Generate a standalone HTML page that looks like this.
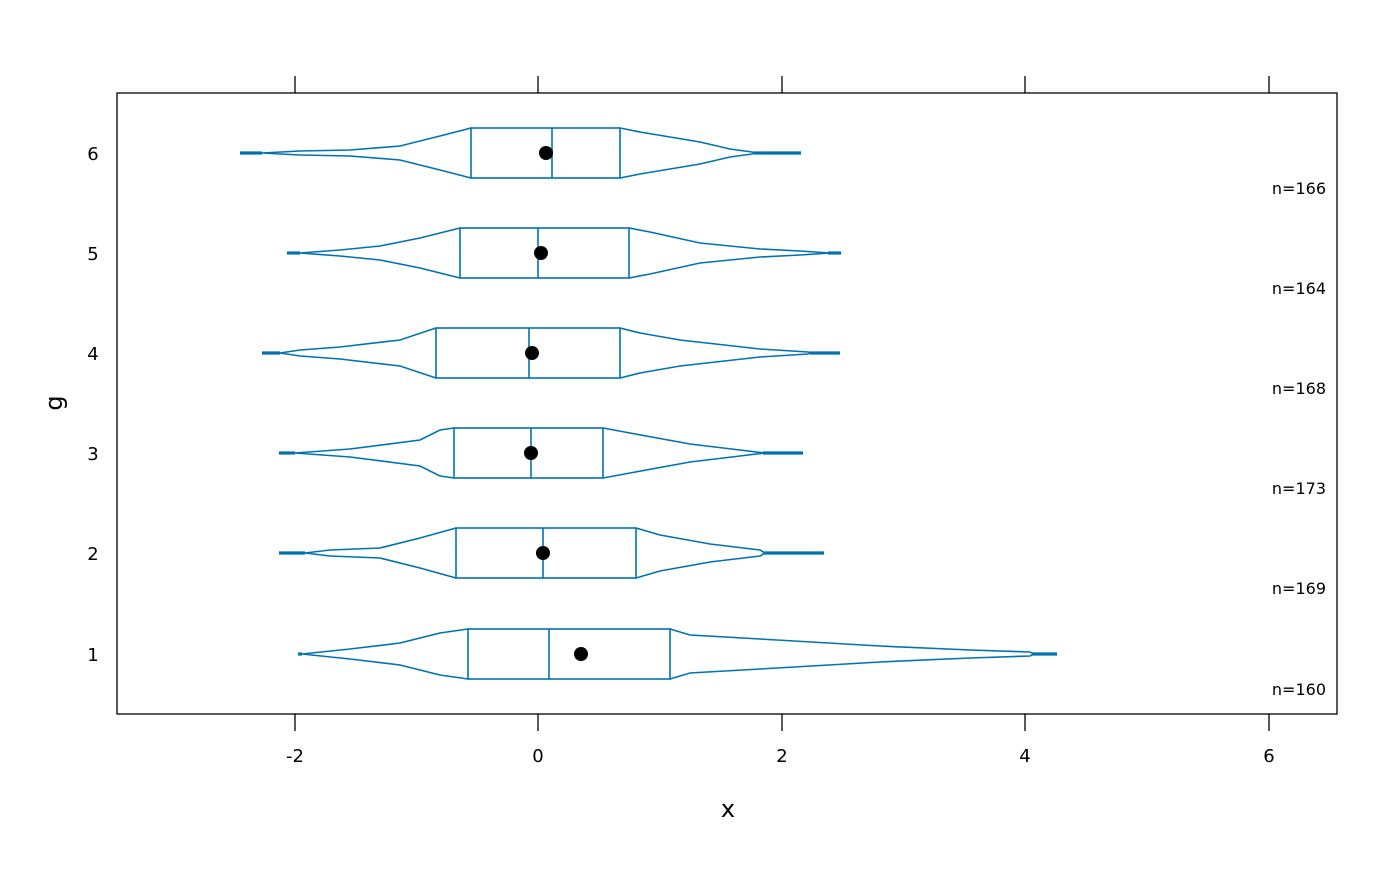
<!DOCTYPE html>
<html><head><meta charset="utf-8"><style>
body{margin:0;background:#fff}
svg text{font-family:"DejaVu Sans","Liberation Sans",sans-serif;fill:#000}
</style></head><body>
<svg width="1400" height="866" viewBox="0 0 1400 866" xmlns="http://www.w3.org/2000/svg">
<rect x="117" y="93" width="1220" height="621" fill="none" stroke="#000" stroke-width="1.3"/>
<g stroke="#000" stroke-width="1.3">
<line x1="295" y1="76" x2="295" y2="93"/><line x1="538" y1="76" x2="538" y2="93"/><line x1="782" y1="76" x2="782" y2="93"/><line x1="1025" y1="76" x2="1025" y2="93"/><line x1="1269" y1="76" x2="1269" y2="93"/>
<line x1="295" y1="714" x2="295" y2="731"/><line x1="538" y1="714" x2="538" y2="731"/><line x1="782" y1="714" x2="782" y2="731"/><line x1="1025" y1="714" x2="1025" y2="731"/><line x1="1269" y1="714" x2="1269" y2="731"/>
</g>
<g font-size="18" text-anchor="middle">
<text x="295" y="762">-2</text><text x="538" y="762">0</text><text x="782" y="762">2</text><text x="1025" y="762">4</text><text x="1269" y="762">6</text>
<text x="93" y="160">6</text><text x="93" y="260">5</text><text x="93" y="360">4</text><text x="93" y="460">3</text><text x="93" y="560">2</text><text x="93" y="661">1</text>
</g>
<text x="728" y="817" font-size="24" text-anchor="middle">x</text>
<text x="62" y="403" font-size="24" text-anchor="middle" transform="rotate(-90 62 403)">g</text>
<g font-size="16" text-anchor="end">
<text x="1326" y="194">n=166</text><text x="1326" y="294">n=164</text><text x="1326" y="394">n=168</text><text x="1326" y="494">n=173</text><text x="1326" y="594">n=169</text><text x="1326" y="695">n=160</text>
</g>
<g fill="none" stroke="#0072B2" stroke-width="1.6">
<!-- row 6 -->
<path d="M262,153 L300,151 L350,150 L400,146 L440,136 L471,128 M620,128 L640,132 L700,142 L730,149 L752,152 L756,153 L752,154 L730,157 L700,164 L640,174 L620,178 M471,178 L440,170 L400,160 L350,156 L300,155 L262,153"/>
<rect x="471" y="128" width="149" height="50"/><line x1="552" y1="128" x2="552" y2="178"/>
<!-- row 5 -->
<path d="M300,253 L340,250 L380,246 L420,238 L460,228 M629,228 L650,232 L700,243 L760,249 L800,251 L830,253 L800,255 L760,257 L700,263 L650,274 L629,278 M460,278 L420,268 L380,260 L340,256 L300,253"/>
<rect x="460" y="228" width="169" height="50"/><line x1="538" y1="228" x2="538" y2="278"/>
<!-- row 4 -->
<path d="M280,353 L300,350 L340,347 L400,340 L436,328 M620,328 L640,333 L680,340 L760,349 L808,352 L812,353 L808,354 L760,357 L680,366 L640,373 L620,378 M436,378 L400,366 L340,359 L300,356 L280,353"/>
<rect x="436" y="328" width="184" height="50"/><line x1="529" y1="328" x2="529" y2="378"/>
<!-- row 3 -->
<path d="M295,453 L350,449 L420,440 L440,430 L454,428 M603,428 L630,433 L690,444 L740,450 L765,453 L740,456 L690,462 L630,473 L603,478 M454,478 L440,476 L420,466 L350,457 L295,453"/>
<rect x="454" y="428" width="149" height="50"/><line x1="531" y1="428" x2="531" y2="478"/>
<!-- row 2 -->
<path d="M305,553 L330,550 L380,548 L420,538 L456,528 M636,528 L660,535 L710,544 L760,550 L765,553 L760,556 L710,562 L660,571 L636,578 M456,578 L420,568 L380,558 L330,556 L305,553"/>
<rect x="456" y="528" width="180" height="50"/><line x1="543" y1="528" x2="543" y2="578"/>
<!-- row 1 -->
<path d="M302,654 L350,649 L400,643 L440,633 L468,629 M670,629 L690,635 L760,639 L880,646 L970,650 L1030,652 L1034,654 L1030,656 L970,658 L880,662 L760,669 L690,673 L670,679 M468,679 L440,675 L400,665 L350,659 L302,654"/>
<rect x="468" y="629" width="202" height="50"/><line x1="549" y1="629" x2="549" y2="679"/>
</g>
<g stroke="#0072B2" stroke-width="3.2">
<line x1="240" y1="153" x2="262" y2="153"/><line x1="754" y1="153" x2="801" y2="153"/>
<line x1="287" y1="253" x2="300" y2="253"/><line x1="828" y1="253" x2="841" y2="253"/>
<line x1="262" y1="353" x2="280" y2="353"/><line x1="810" y1="353" x2="840" y2="353"/>
<line x1="279" y1="453" x2="295" y2="453"/><line x1="763" y1="453" x2="803" y2="453"/>
<line x1="279" y1="553" x2="305" y2="553"/><line x1="763" y1="553" x2="824" y2="553"/>
<line x1="298" y1="654" x2="302" y2="654"/><line x1="1032" y1="654" x2="1057" y2="654"/>
</g>
<g fill="#000">
<circle cx="546" cy="153" r="7"/><circle cx="541" cy="253" r="7"/><circle cx="532" cy="353" r="7"/><circle cx="531" cy="453" r="7"/><circle cx="543" cy="553" r="7"/><circle cx="581" cy="654" r="7"/>
</g>
</svg>
</body></html>
